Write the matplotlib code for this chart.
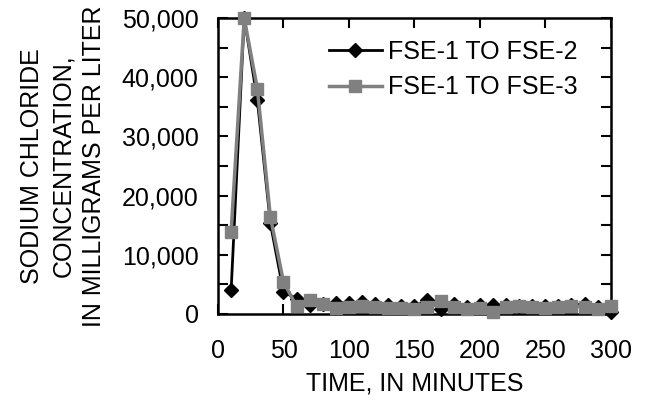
import numpy as np
from matplotlib import pyplot as plt
from matplotlib.ticker import MultipleLocator, StrMethodFormatter

plt.rcParams['font.family'] = ['Liberation Sans', 'DejaVu Sans']

# time in minutes
time = [10, 20, 30, 40, 50, 60, 70, 80, 90, 100,
        110, 120, 130, 140, 150, 160, 170, 180, 190, 200,
        210, 220, 230, 240, 250, 260, 270, 280, 290, 300]

# sodium chloride, mg/L
fse2 = [4000, 50000, 36200, 15300, 3700, 2600, 1500, 1600, 1800, 1900,
        2000, 1600, 1500, 1300, 1300, 2300, 900, 1600, 1100, 1500,
        1500, 1500, 1400, 1300, 1300, 1400, 1500, 1700, 1200, 300]
fse3 = [13900, 50000, 38100, 16400, 5400, 1300, 2300, 1700, 950, 1250,
        1400, 1250, 950, 950, 900, 1200, 2100, 1200, 900, 1000,
        350, 1200, 1300, 1200, 1000, 1100, 1300, 1200, 900, 1400]

labels = ['FSE-1 TO FSE-2', 'FSE-1 TO FSE-3']

fs = 18

fig = plt.figure(figsize=(6.47, 4.04), dpi=100)
ax = fig.add_axes([0.337, 0.223, 0.607, 0.732])

ax.plot(time, fse2, color='black', lw=2, marker='D', ms=7,
        label=labels[0], clip_on=False, zorder=3)
ax.plot(time, fse3, color='#808080', lw=2.5, marker='s', ms=9,
        label=labels[1], clip_on=False, zorder=4)

ax.set_xlim(0, 300)
ax.set_ylim(0, 50000)
ax.xaxis.set_major_locator(MultipleLocator(50))
ax.yaxis.set_major_locator(MultipleLocator(10000))
ax.yaxis.set_minor_locator(MultipleLocator(5000))
ax.yaxis.set_major_formatter(StrMethodFormatter('{x:,.0f}'))
ax.tick_params(which='both', direction='in', top=True, right=True,
               length=7, width=1.5, labelsize=fs)
ax.tick_params(axis='y', pad=14)
ax.tick_params(axis='x', pad=18)
for s in ax.spines.values():
    s.set_linewidth(1.8)

ax.set_xlabel('TIME, IN MINUTES', fontsize=fs, labelpad=6)
ax.set_ylabel('SODIUM CHLORIDE\nCONCENTRATION,\nIN MILLIGRAMS PER LITER',
              fontsize=fs, labelpad=11, linespacing=1.38)

ax.legend(loc='upper left', bbox_to_anchor=(0.283, 0.926), frameon=False,
          fontsize=fs, handlelength=2.1, handletextpad=0.25, labelspacing=0.45,
          borderaxespad=0.0, borderpad=0.0)

plt.savefig('out.png', dpi=100)
